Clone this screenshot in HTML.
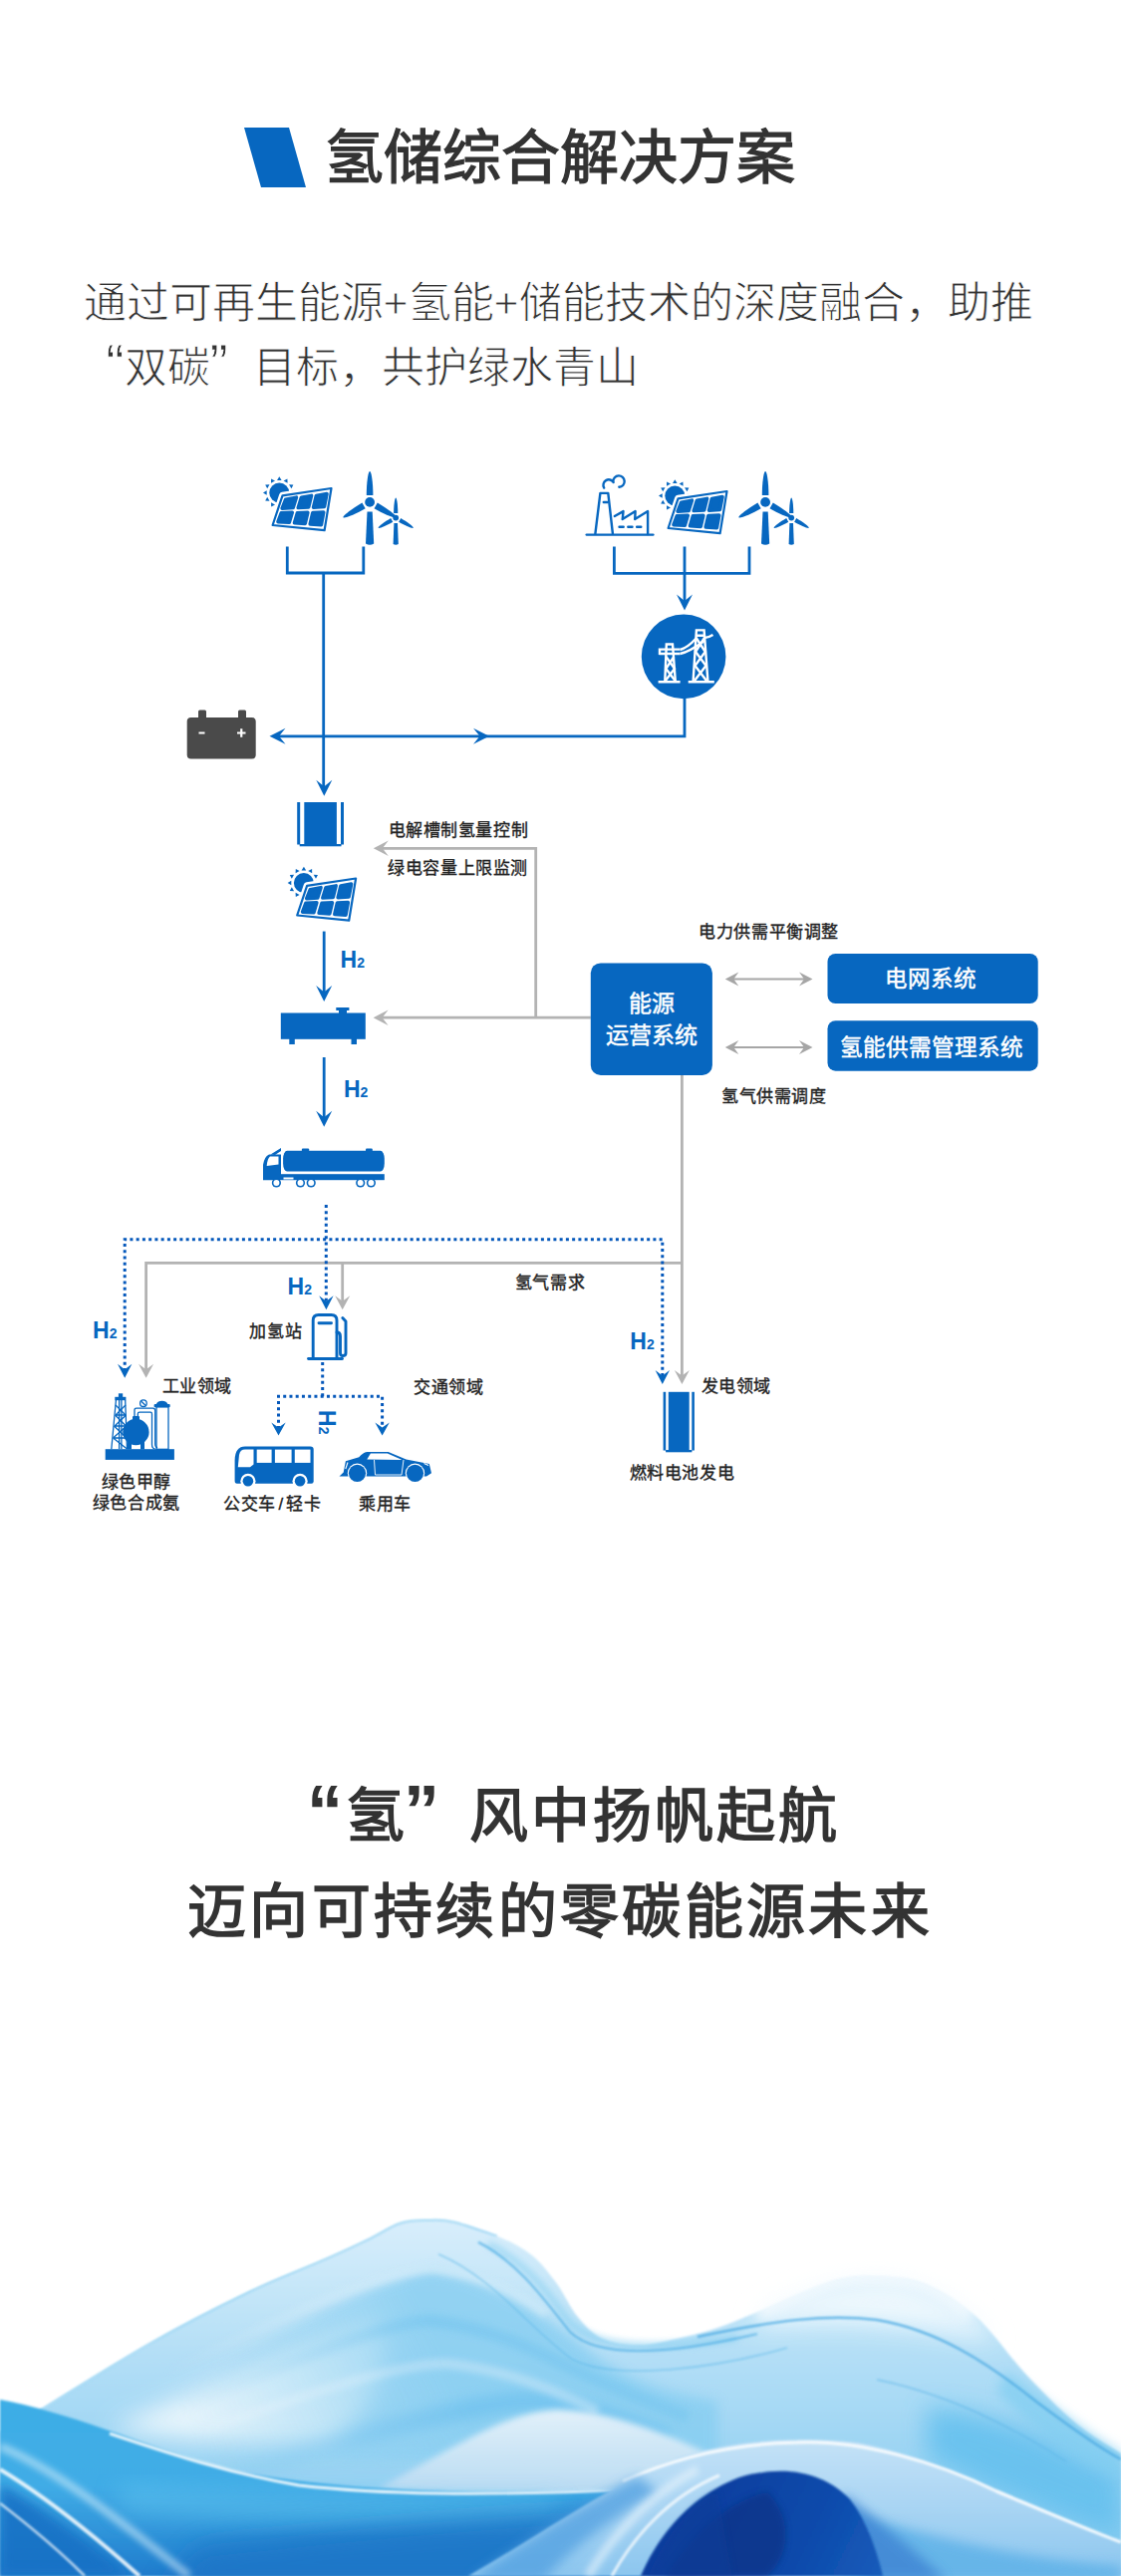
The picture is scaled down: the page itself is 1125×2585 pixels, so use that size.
<!DOCTYPE html>
<html lang="zh-CN"><head><meta charset="utf-8">
<style>
html,body{margin:0;padding:0;background:#fff;}
body{width:1125px;height:2585px;position:relative;overflow:hidden;font-family:"Liberation Sans",sans-serif;}
.t{position:absolute;white-space:nowrap;line-height:1;}
.lab{position:absolute;white-space:nowrap;line-height:1;font-size:17.5px;color:#222;-webkit-text-stroke:0.35px #222;}
.h2{position:absolute;white-space:nowrap;line-height:1;font-size:23px;font-weight:bold;color:#0767c0;}
.h2 span{font-size:14px;}
svg{position:absolute;left:0;top:0;}
</style></head><body>
<svg width="1125" height="260" style="top:0"><polygon points="245,128 290,128 307,188 262,188" fill="#0767c0"/></svg><div class="t" style="left:325.5px;top:130px;font-size:59px;color:#333;-webkit-text-stroke:1.3px #333;">氢储综合解决方案</div><div class="t" style="left:83.5px;top:283px;font-size:43px;color:#333;-webkit-text-stroke:0.9px #fff;">通过可再生能源+氢能+储能技术的深度融合，助推</div><div class="t" style="left:81.5px;top:348px;font-size:43px;color:#333;-webkit-text-stroke:0.9px #fff;"><span style="display:inline-block;width:1em;text-align:right;"><span style="padding-right:0px;font-size:55px;line-height:0">“</span></span>双碳<span style="display:inline-block;width:1em;text-align:left;"><span style="font-size:55px;line-height:0">”</span></span>目标，共护绿水青山</div><div class="t" style="left:285px;top:1793.5px;font-size:59px;letter-spacing:3px;color:#333;-webkit-text-stroke:1.6px #333;"><span style="display:inline-block;width:62px;text-align:right;letter-spacing:0"><span style="padding-right:3px;position:relative;top:-1px;font-size:72px;line-height:0;font-weight:bold;-webkit-text-stroke:0">“</span></span>氢<span style="display:inline-block;width:62px;text-align:left;letter-spacing:0"><span style="position:relative;left:-4px;top:-1px;font-size:72px;line-height:0;font-weight:bold;-webkit-text-stroke:0">”</span></span>风中扬帆起航</div><div class="t" style="left:188px;top:1889.5px;font-size:59px;letter-spacing:3.35px;color:#333;-webkit-text-stroke:1.6px #333;">迈向可持续的零碳能源未来</div><div class="lab" style="left:389.5px;top:825.2px;font-size:17px;letter-spacing:0.6px;">电解槽制氢量控制</div><div class="lab" style="left:389.2px;top:862.7px;font-size:17px;letter-spacing:0.6px;">绿电容量上限监测</div><div class="lab" style="left:701.2px;top:926.8px;font-size:17px;letter-spacing:0.6px;">电力供需平衡调整</div><div class="lab" style="left:724.0px;top:1091.5px;font-size:17px;letter-spacing:0.6px;">氢气供需调度</div><div class="lab" style="left:516.9px;top:1279.3px;font-size:17px;letter-spacing:0.6px;">氢气需求</div><div class="lab" style="left:250.4px;top:1327.9px;font-size:17px;letter-spacing:0.6px;">加氢站</div><div class="lab" style="left:162.7px;top:1383.2px;font-size:17px;letter-spacing:0.6px;">工业领域</div><div class="lab" style="left:415.2px;top:1383.7px;font-size:17px;letter-spacing:0.6px;">交通领域</div><div class="lab" style="left:703.5px;top:1383.0px;font-size:17px;letter-spacing:0.6px;">发电领域</div><div class="lab" style="left:101.7px;top:1478.8px;font-size:17px;letter-spacing:0.6px;">绿色甲醇</div><div class="lab" style="left:92.8px;top:1499.6px;font-size:17px;letter-spacing:0.6px;">绿色合成氨</div><div class="lab" style="left:224.2px;top:1501.0px;font-size:17px;letter-spacing:0.6px;">公交车<span style="margin:0 2.5px">/</span>轻卡</div><div class="lab" style="left:360.2px;top:1501.0px;font-size:17px;letter-spacing:0.6px;">乘用车</div><div class="lab" style="left:631.6px;top:1470.1px;font-size:17px;letter-spacing:0.6px;">燃料电池发电</div><svg width="1125" height="2585" viewBox="0 0 1125 2585"><circle cx="280.3" cy="494.5" r="10" fill="#0767c0"/><path d="M280.3,478.2 L282.6,481.9 L278.0,481.9 Z" fill="#0767c0"/><path d="M288.4,480.4 L288.6,484.7 L284.6,482.4 Z" fill="#0767c0"/><path d="M294.4,486.4 L292.4,490.2 L290.1,486.2 Z" fill="#0767c0"/><path d="M296.6,494.5 L292.9,496.8 L292.9,492.2 Z" fill="#0767c0"/><path d="M294.4,502.6 L290.1,502.8 L292.4,498.8 Z" fill="#0767c0"/><path d="M288.4,508.6 L284.6,506.6 L288.6,504.3 Z" fill="#0767c0"/><path d="M280.3,510.8 L278.0,507.1 L282.6,507.1 Z" fill="#0767c0"/><path d="M272.2,508.6 L272.0,504.3 L276.0,506.6 Z" fill="#0767c0"/><path d="M266.2,502.6 L268.2,498.8 L270.5,502.8 Z" fill="#0767c0"/><path d="M264.0,494.5 L267.7,492.2 L267.7,496.8 Z" fill="#0767c0"/><path d="M266.2,486.4 L270.5,486.2 L268.2,490.2 Z" fill="#0767c0"/><path d="M272.1,480.4 L276.0,482.4 L272.0,484.7 Z" fill="#0767c0"/><polygon points="283.5,497.3 332.5,490.0 325.6,532.2 273.6,527.0" fill="#fff" stroke="#fff" stroke-width="7" stroke-linejoin="round"/><polygon points="283.5,497.3 332.5,490.0 325.6,532.2 273.6,527.0" fill="#fff" stroke="#0767c0" stroke-width="2.2" stroke-linejoin="round"/><polygon points="286.71,501.18 297.38,499.19 294.14,509.38 283.13,510.14" fill="#0767c0" stroke="#0767c0" stroke-width="3.6" stroke-linejoin="round"/><polygon points="302.40,499.31 312.53,497.43 309.67,508.87 299.25,509.57" fill="#0767c0" stroke="#0767c0" stroke-width="3.6" stroke-linejoin="round"/><polygon points="317.39,497.44 327.97,495.56 325.44,508.44 314.56,509.08" fill="#0767c0" stroke="#0767c0" stroke-width="3.6" stroke-linejoin="round"/><polygon points="282.27,514.87 293.27,514.29 290.28,524.19 278.97,523.58" fill="#0767c0" stroke="#0767c0" stroke-width="3.6" stroke-linejoin="round"/><polygon points="298.42,514.79 308.82,514.27 306.20,525.37 295.51,524.75" fill="#0767c0" stroke="#0767c0" stroke-width="3.6" stroke-linejoin="round"/><polygon points="313.82,514.63 324.69,514.16 322.37,526.65 311.22,525.93" fill="#0767c0" stroke="#0767c0" stroke-width="3.6" stroke-linejoin="round"/><path d="M395.4,525.1 L399.0,525.1 L399.8,546.1 Q397.2,547.4 394.6,546.1 Z" fill="#0767c0"/><path transform="translate(397.2,519.6) rotate(0)" d="M-2.10,-4.60 C-2.10,-11.62 -1.18,-20.20 0,-20.20 C1.18,-20.20 2.10,-11.62 2.10,-4.60 Z" fill="#0767c0"/><path transform="translate(397.2,519.6) rotate(120)" d="M-2.10,-4.60 C-2.10,-11.62 -1.18,-20.20 0,-20.20 C1.18,-20.20 2.10,-11.62 2.10,-4.60 Z" fill="#0767c0"/><path transform="translate(397.2,519.6) rotate(240)" d="M-2.10,-4.60 C-2.10,-11.62 -1.18,-20.20 0,-20.20 C1.18,-20.20 2.10,-11.62 2.10,-4.60 Z" fill="#0767c0"/><circle cx="397.2" cy="519.6" r="2.9" fill="#0767c0"/><path d="M368.5,513.4 L373.7,513.4 L375.2,545.4 Q371.1,547.9 367.0,545.4 Z" fill="#0767c0"/><path transform="translate(371.1,503.9) rotate(0)" d="M-3.30,-7.00 C-3.30,-17.71 -1.85,-30.80 0,-30.80 C1.85,-30.80 3.30,-17.71 3.30,-7.00 Z" fill="#0767c0"/><path transform="translate(371.1,503.9) rotate(120)" d="M-3.30,-7.00 C-3.30,-17.71 -1.85,-30.80 0,-30.80 C1.85,-30.80 3.30,-17.71 3.30,-7.00 Z" fill="#0767c0"/><path transform="translate(371.1,503.9) rotate(240)" d="M-3.30,-7.00 C-3.30,-17.71 -1.85,-30.80 0,-30.80 C1.85,-30.80 3.30,-17.71 3.30,-7.00 Z" fill="#0767c0"/><circle cx="371.1" cy="503.9" r="4.9" fill="#0767c0"/><circle cx="677.3" cy="497.5" r="10" fill="#0767c0"/><path d="M677.3,481.2 L679.6,484.9 L675.0,484.9 Z" fill="#0767c0"/><path d="M685.4,483.4 L685.6,487.7 L681.6,485.4 Z" fill="#0767c0"/><path d="M691.4,489.4 L689.4,493.2 L687.1,489.2 Z" fill="#0767c0"/><path d="M693.6,497.5 L689.9,499.8 L689.9,495.2 Z" fill="#0767c0"/><path d="M691.4,505.6 L687.1,505.8 L689.4,501.8 Z" fill="#0767c0"/><path d="M685.4,511.6 L681.6,509.6 L685.6,507.3 Z" fill="#0767c0"/><path d="M677.3,513.8 L675.0,510.1 L679.6,510.1 Z" fill="#0767c0"/><path d="M669.1,511.6 L669.0,507.3 L673.0,509.6 Z" fill="#0767c0"/><path d="M663.2,505.6 L665.2,501.8 L667.5,505.8 Z" fill="#0767c0"/><path d="M661.0,497.5 L664.7,495.2 L664.7,499.8 Z" fill="#0767c0"/><path d="M663.2,489.4 L667.5,489.2 L665.2,493.2 Z" fill="#0767c0"/><path d="M669.1,483.4 L673.0,485.4 L669.0,487.7 Z" fill="#0767c0"/><polygon points="680.5,500.3 729.5,493.0 722.6,535.2 670.6,530.0" fill="#fff" stroke="#fff" stroke-width="7" stroke-linejoin="round"/><polygon points="680.5,500.3 729.5,493.0 722.6,535.2 670.6,530.0" fill="#fff" stroke="#0767c0" stroke-width="2.2" stroke-linejoin="round"/><polygon points="683.71,504.18 694.38,502.19 691.14,512.38 680.13,513.14" fill="#0767c0" stroke="#0767c0" stroke-width="3.6" stroke-linejoin="round"/><polygon points="699.40,502.31 709.53,500.43 706.67,511.87 696.25,512.57" fill="#0767c0" stroke="#0767c0" stroke-width="3.6" stroke-linejoin="round"/><polygon points="714.39,500.44 724.97,498.56 722.44,511.44 711.56,512.08" fill="#0767c0" stroke="#0767c0" stroke-width="3.6" stroke-linejoin="round"/><polygon points="679.27,517.87 690.27,517.29 687.28,527.19 675.97,526.58" fill="#0767c0" stroke="#0767c0" stroke-width="3.6" stroke-linejoin="round"/><polygon points="695.42,517.79 705.82,517.27 703.20,528.37 692.51,527.75" fill="#0767c0" stroke="#0767c0" stroke-width="3.6" stroke-linejoin="round"/><polygon points="710.82,517.63 721.69,517.16 719.37,529.65 708.22,528.93" fill="#0767c0" stroke="#0767c0" stroke-width="3.6" stroke-linejoin="round"/><path d="M792.4,525.1 L796.0,525.1 L796.8,546.1 Q794.2,547.4 791.6,546.1 Z" fill="#0767c0"/><path transform="translate(794.2,519.6) rotate(0)" d="M-2.10,-4.60 C-2.10,-11.62 -1.18,-20.20 0,-20.20 C1.18,-20.20 2.10,-11.62 2.10,-4.60 Z" fill="#0767c0"/><path transform="translate(794.2,519.6) rotate(120)" d="M-2.10,-4.60 C-2.10,-11.62 -1.18,-20.20 0,-20.20 C1.18,-20.20 2.10,-11.62 2.10,-4.60 Z" fill="#0767c0"/><path transform="translate(794.2,519.6) rotate(240)" d="M-2.10,-4.60 C-2.10,-11.62 -1.18,-20.20 0,-20.20 C1.18,-20.20 2.10,-11.62 2.10,-4.60 Z" fill="#0767c0"/><circle cx="794.2" cy="519.6" r="2.9" fill="#0767c0"/><path d="M765.5,513.4 L770.7,513.4 L772.2,545.4 Q768.1,547.9 764.0,545.4 Z" fill="#0767c0"/><path transform="translate(768.1,503.9) rotate(0)" d="M-3.30,-7.00 C-3.30,-17.71 -1.85,-30.80 0,-30.80 C1.85,-30.80 3.30,-17.71 3.30,-7.00 Z" fill="#0767c0"/><path transform="translate(768.1,503.9) rotate(120)" d="M-3.30,-7.00 C-3.30,-17.71 -1.85,-30.80 0,-30.80 C1.85,-30.80 3.30,-17.71 3.30,-7.00 Z" fill="#0767c0"/><path transform="translate(768.1,503.9) rotate(240)" d="M-3.30,-7.00 C-3.30,-17.71 -1.85,-30.80 0,-30.80 C1.85,-30.80 3.30,-17.71 3.30,-7.00 Z" fill="#0767c0"/><circle cx="768.1" cy="503.9" r="4.9" fill="#0767c0"/><g fill="none" stroke="#0767c0" stroke-width="2.4" stroke-linecap="round" stroke-linejoin="round"><path d="M588.7,536.6 H655.4"/><path d="M597.4,535.5 L602.4,494.9 H610.3 L614.9,535.5"/><path d="M605.8,504 H609.7"/><path d="M606.2,489.6 A4.9,4.9 0 0 1 615.6,484"/><path d="M615.3,483.3 A5.7,5.7 0 1 1 621.3,488.8"/><path d="M616.8,518 L625.5,513.1 L624.7,521.1 L637.6,513.1 L637.2,521.1 L650.1,513.1 V536"/><path d="M621.5,528.7 H644" stroke-dasharray="4.2 4.6"/></g><path d="M288.3,548.5 L288.3,575.0 L364.8,575.0 L364.8,548.5" fill="none" stroke="#0767c0" stroke-width="2.8" stroke-linecap="butt" stroke-linejoin="miter"/><path d="M324.7,575.0 L324.7,790.0" fill="none" stroke="#0767c0" stroke-width="2.8" stroke-linecap="butt" stroke-linejoin="miter"/><path transform="translate(325.3,798.8) rotate(90)" d="M0,0 L-16,-8 L-9.5,0 L-16,8 Z" fill="#0767c0"/><path d="M616.4,548.5 L616.4,575.3 L752.0,575.3 L752.0,548.5" fill="none" stroke="#0767c0" stroke-width="2.8" stroke-linecap="butt" stroke-linejoin="miter"/><path d="M687.0,548.5 L687.0,605.0" fill="none" stroke="#0767c0" stroke-width="2.8" stroke-linecap="butt" stroke-linejoin="miter"/><path transform="translate(687.0,612.5) rotate(90)" d="M0,0 L-16,-8 L-9.5,0 L-16,8 Z" fill="#0767c0"/><circle cx="686.1" cy="658.9" r="42.3" fill="#0767c0"/><g fill="none" stroke="#fff" stroke-width="2.4" stroke-linejoin="miter" stroke-linecap="butt"><path d="M660.6,684.3 H682.6 M667.3,683.5 L668.8,646.5 H675 L677.8,683.5"/><path d="M661.5,651.6 H682.6 M661.5,656 H682.6 M662,650.5 V657"/><path d="M668.5,659 L677,671 L667.8,683 M676.3,659 L668.3,671 L677.5,683"/><path d="M690.7,684.3 H716.8 M695.6,683.5 L698.9,632.4 H706.6 L710.4,683.5 M698.7,637.8 H706.8"/><path d="M698.6,640 L707.8,654 L697.5,668 L709,683 M707,640 L698,654 L708.5,668 L697,683"/><path d="M682.6,652 Q690,650 698.7,640.5 M682.6,656 Q692,654 707,643 M707,640 Q711,640 715.5,637"/></g><g fill="#4a4a4a"><rect x="187.7" y="720" width="69" height="41.5" rx="4"/><rect x="199" y="712.5" width="8" height="9" rx="1.5"/><rect x="239" y="712.5" width="8" height="9" rx="1.5"/></g><path d="M199.5,735.5 H205.5 M238,735.5 H246.5 M242.25,731.2 V739.8" stroke="#fff" stroke-width="2.2"/><path d="M687.0,701.0 L687.0,738.8 L278.0,738.8" fill="none" stroke="#0767c0" stroke-width="2.8" stroke-linecap="butt" stroke-linejoin="miter"/><path transform="translate(270.5,738.8) rotate(180)" d="M0,0 L-16,-8 L-9.5,0 L-16,8 Z" fill="#0767c0"/><path transform="translate(491.0,738.8) rotate(0)" d="M0,0 L-16,-8 L-9.5,0 L-16,8 Z" fill="#0767c0"/><g fill="#0767c0"><rect x="298.2" y="805.0" width="3" height="42.5"/><rect x="342.0" y="805.0" width="3" height="42.5"/><rect x="305.3" y="805.0" width="32.6" height="42.5"/><rect x="300.7" y="847.0" width="41.8" height="2.3"/></g><circle cx="304.9" cy="886.0" r="10" fill="#0767c0"/><path d="M304.9,869.7 L307.2,873.4 L302.6,873.4 Z" fill="#0767c0"/><path d="M313.1,871.9 L313.2,876.2 L309.2,873.9 Z" fill="#0767c0"/><path d="M319.0,877.9 L317.0,881.7 L314.7,877.7 Z" fill="#0767c0"/><path d="M321.2,886.0 L317.5,888.3 L317.5,883.7 Z" fill="#0767c0"/><path d="M319.0,894.1 L314.7,894.3 L317.0,890.3 Z" fill="#0767c0"/><path d="M313.1,900.1 L309.2,898.1 L313.2,895.8 Z" fill="#0767c0"/><path d="M304.9,902.3 L302.6,898.6 L307.2,898.6 Z" fill="#0767c0"/><path d="M296.8,900.1 L296.6,895.8 L300.6,898.1 Z" fill="#0767c0"/><path d="M290.8,894.1 L292.8,890.3 L295.1,894.3 Z" fill="#0767c0"/><path d="M288.6,886.0 L292.3,883.7 L292.3,888.3 Z" fill="#0767c0"/><path d="M290.8,877.9 L295.1,877.7 L292.8,881.7 Z" fill="#0767c0"/><path d="M296.8,871.9 L300.6,873.9 L296.6,876.2 Z" fill="#0767c0"/><polygon points="308.1,888.8 357.1,881.5 350.2,923.7 298.2,918.5" fill="#fff" stroke="#fff" stroke-width="7" stroke-linejoin="round"/><polygon points="308.1,888.8 357.1,881.5 350.2,923.7 298.2,918.5" fill="#fff" stroke="#0767c0" stroke-width="2.2" stroke-linejoin="round"/><polygon points="311.31,892.68 321.98,890.69 318.74,900.88 307.73,901.64" fill="#0767c0" stroke="#0767c0" stroke-width="3.6" stroke-linejoin="round"/><polygon points="327.00,890.81 337.13,888.93 334.27,900.37 323.85,901.07" fill="#0767c0" stroke="#0767c0" stroke-width="3.6" stroke-linejoin="round"/><polygon points="341.99,888.94 352.57,887.06 350.04,899.94 339.16,900.58" fill="#0767c0" stroke="#0767c0" stroke-width="3.6" stroke-linejoin="round"/><polygon points="306.87,906.37 317.87,905.79 314.88,915.69 303.57,915.08" fill="#0767c0" stroke="#0767c0" stroke-width="3.6" stroke-linejoin="round"/><polygon points="323.02,906.29 333.42,905.77 330.80,916.87 320.11,916.25" fill="#0767c0" stroke="#0767c0" stroke-width="3.6" stroke-linejoin="round"/><polygon points="338.42,906.13 349.29,905.66 346.97,918.15 335.82,917.43" fill="#0767c0" stroke="#0767c0" stroke-width="3.6" stroke-linejoin="round"/><path d="M325.2,934.6 L325.2,998.0" fill="none" stroke="#0767c0" stroke-width="2.8" stroke-linecap="butt" stroke-linejoin="miter"/><path transform="translate(325.2,1005.0) rotate(90)" d="M0,0 L-16,-8 L-9.5,0 L-16,8 Z" fill="#0767c0"/><g fill="#0767c0"><rect x="281.8" y="1016.5" width="85" height="26.3"/><rect x="337.3" y="1011" width="13.1" height="3"/><rect x="340" y="1013" width="8" height="4"/><rect x="290.3" y="1042" width="5.5" height="6"/><rect x="352.5" y="1042" width="5.5" height="6"/></g><path d="M325.2,1061.0 L325.2,1124.0" fill="none" stroke="#0767c0" stroke-width="2.8" stroke-linecap="butt" stroke-linejoin="miter"/><path transform="translate(325.2,1130.8) rotate(90)" d="M0,0 L-16,-8 L-9.5,0 L-16,8 Z" fill="#0767c0"/><g fill="#0767c0"><rect x="284.1" y="1154.8" width="101.7" height="20.7" rx="4" ry="8"/><rect x="302.9" y="1152.5" width="7.3" height="3.5" rx="1"/><rect x="367" y="1152.5" width="6.8" height="3.5" rx="1"/><rect x="282" y="1178.2" width="103.8" height="6"/><path d="M264,1184.2 V1169 Q265,1161 270,1158.5 L282,1158.5 V1184.2 Z"/><path d="M271.5,1158.5 L282,1152 V1155 L276,1159 Z"/></g><path d="M267.7,1170 Q268.2,1163 271,1160.5 L279.5,1160.5 V1168.6 Z" fill="#fff"/><rect x="284.5" y="1181.5" width="10" height="2" fill="#fff"/><circle cx="277.4" cy="1186.9" r="4.6" fill="#0767c0"/><circle cx="277.4" cy="1186.9" r="3" fill="#fff"/><circle cx="301.5" cy="1186.9" r="4.6" fill="#0767c0"/><circle cx="301.5" cy="1186.9" r="3" fill="#fff"/><circle cx="312.2" cy="1186.9" r="4.6" fill="#0767c0"/><circle cx="312.2" cy="1186.9" r="3" fill="#fff"/><circle cx="361.7" cy="1186.9" r="4.6" fill="#0767c0"/><circle cx="361.7" cy="1186.9" r="3" fill="#fff"/><circle cx="372.4" cy="1186.9" r="4.6" fill="#0767c0"/><circle cx="372.4" cy="1186.9" r="3" fill="#fff"/><path d="M382.0,851.3 L537.7,851.3 L537.7,1021.2" fill="none" stroke="#b3b3b3" stroke-width="2.8" stroke-linecap="butt" stroke-linejoin="miter"/><path transform="translate(374.8,851.3) rotate(180)" d="M0,0 L-15,-7.8 L-9,0 L-15,7.8 Z" fill="#b3b3b3"/><path d="M382.0,1021.2 L592.8,1021.2" fill="none" stroke="#b3b3b3" stroke-width="2.8" stroke-linecap="butt" stroke-linejoin="miter"/><path transform="translate(374.6,1021.2) rotate(180)" d="M0,0 L-15,-7.8 L-9,0 L-15,7.8 Z" fill="#b3b3b3"/><path d="M733.0,982.5 L810.0,982.5" fill="none" stroke="#a6a6a6" stroke-width="2.1" stroke-linecap="butt" stroke-linejoin="miter"/><path transform="translate(727.8,982.5) rotate(180)" d="M0,0 L-13.5,-7 L-8.5,0 L-13.5,7 Z" fill="#a6a6a6"/><path transform="translate(815.5,982.5) rotate(0)" d="M0,0 L-13.5,-7 L-8.5,0 L-13.5,7 Z" fill="#a6a6a6"/><path d="M733.0,1051.0 L810.0,1051.0" fill="none" stroke="#a6a6a6" stroke-width="2.1" stroke-linecap="butt" stroke-linejoin="miter"/><path transform="translate(727.8,1051.0) rotate(180)" d="M0,0 L-13.5,-7 L-8.5,0 L-13.5,7 Z" fill="#a6a6a6"/><path transform="translate(815.5,1051.0) rotate(0)" d="M0,0 L-13.5,-7 L-8.5,0 L-13.5,7 Z" fill="#a6a6a6"/><rect x="592.8" y="966.4" width="122.1" height="112.6" rx="10" fill="#0767c0"/><rect x="830.5" y="957" width="211.2" height="50" rx="8" fill="#0767c0"/><rect x="830.5" y="1024.2" width="211.2" height="50.5" rx="8" fill="#0767c0"/><path d="M684.4,1079.0 L684.4,1382.0" fill="none" stroke="#b3b3b3" stroke-width="2.8" stroke-linecap="butt" stroke-linejoin="miter"/><path transform="translate(684.4,1389.0) rotate(90)" d="M0,0 L-14,-7.5 L-8.5,0 L-14,7.5 Z" fill="#b3b3b3"/><path d="M146.6,1376.0 L146.6,1267.3 L684.4,1267.3" fill="none" stroke="#b3b3b3" stroke-width="2.8" stroke-linecap="butt" stroke-linejoin="miter"/><path transform="translate(146.6,1382.7) rotate(90)" d="M0,0 L-14,-7.5 L-8.5,0 L-14,7.5 Z" fill="#b3b3b3"/><path d="M343.7,1267.3 L343.7,1308.0" fill="none" stroke="#b3b3b3" stroke-width="2.8" stroke-linecap="butt" stroke-linejoin="miter"/><path transform="translate(343.7,1314.2) rotate(90)" d="M0,0 L-14,-7.5 L-8.5,0 L-14,7.5 Z" fill="#b3b3b3"/><path d="M327.3,1209.0 L327.3,1308.0" fill="none" stroke="#0558bb" stroke-width="3" stroke-linecap="butt" stroke-linejoin="miter" stroke-dasharray="3 3.25"/><path d="M125.2,1376.0 L125.2,1243.7 L664.8,1243.7 L664.8,1382.0" fill="none" stroke="#0558bb" stroke-width="3" stroke-linecap="butt" stroke-linejoin="miter" stroke-dasharray="3 3.25"/><path transform="translate(327.4,1314.2) rotate(90)" d="M0,0 L-14,-7.2 L-8.5,0 L-14,7.2 Z" fill="#0767c0"/><path transform="translate(125.2,1382.7) rotate(90)" d="M0,0 L-14,-7.2 L-8.5,0 L-14,7.2 Z" fill="#0767c0"/><path transform="translate(664.8,1389.0) rotate(90)" d="M0,0 L-14,-7.2 L-8.5,0 L-14,7.2 Z" fill="#0767c0"/><path d="M323.7,1367.0 L323.7,1401.2" fill="none" stroke="#0558bb" stroke-width="3" stroke-linecap="butt" stroke-linejoin="miter" stroke-dasharray="3 3.25"/><path d="M279.5,1434.0 L279.5,1401.2 L383.6,1401.2 L383.6,1434.0" fill="none" stroke="#0558bb" stroke-width="3" stroke-linecap="butt" stroke-linejoin="miter" stroke-dasharray="3 3.25"/><path transform="translate(279.5,1440.4) rotate(90)" d="M0,0 L-13,-7.2 L-8,0 L-13,7.2 Z" fill="#0767c0"/><path transform="translate(383.6,1440.4) rotate(90)" d="M0,0 L-13,-7.2 L-8,0 L-13,7.2 Z" fill="#0767c0"/><g fill="none" stroke="#0767c0" stroke-width="2.9" stroke-linecap="round" stroke-linejoin="round"><path d="M314.2,1362.5 V1325 Q314.2,1319.5 319.7,1319.5 H332.5 Q338,1319.5 338,1325 V1362.5"/><path d="M309.5,1363.5 H343.5"/><path d="M320,1327.8 H332.5"/><path d="M338,1337 Q341.5,1337 341.5,1341 V1358 Q341.5,1360.5 344,1360.5 Q347,1360.5 347,1358 V1326 L343.8,1322.5"/></g><g fill="#0767c0"><rect x="665.6" y="1396.8" width="2.6" height="58.7"/><rect x="694.3" y="1396.8" width="2.6" height="58.7"/><rect x="670.8" y="1396.8" width="20.9" height="58.7"/><rect x="668.1" y="1455.0" width="26.3" height="2.3"/></g><g fill="none" stroke="#0767c0" stroke-width="1.3"><path d="M111.8,1454.2 L116.4,1405 M127.5,1454.2 L125.7,1405 M119.6,1405 V1454 M121.9,1405 V1454"/><path d="M116,1410 L126,1420 M126,1410 L116,1420 M115.5,1420 L126.5,1431 M126.5,1420 L115,1431 M114.5,1431 L127,1443 M127,1431 L113.5,1443 M113.5,1443 L127.5,1454 M116,1420 H126 M115,1431 H127 M113.5,1443 H127.5"/><path d="M135,1440 V1415 Q135,1413.2 137,1413.2 H153.5 Q155.7,1413.2 155.7,1415.5 V1449 Q155.7,1452 158,1453"/><path d="M138.3,1430 V1419 Q138.3,1417.2 140,1417.2 H151 Q152.5,1417.2 152.5,1419 V1449.5 Q152.5,1453.5 155.5,1454"/><circle cx="143.9" cy="1408.2" r="3.3"/><path d="M141.8,1406.3 L146,1410.2"/><rect x="157" y="1411.8" width="12" height="42.5"/></g><g fill="#0767c0"><rect x="105.7" y="1454.2" width="69.2" height="10.7"/><rect x="115.3" y="1401.8" width="11.1" height="3.4"/><rect x="118.9" y="1398.3" width="4.3" height="4"/><circle cx="136.4" cy="1437" r="13.2"/><rect x="133" y="1421" width="7" height="5" rx="1"/><rect x="128" y="1447" width="4" height="7.5"/><rect x="141" y="1447" width="4" height="7.5"/><rect x="154.6" y="1408.9" width="16.1" height="3.4" rx="1"/><path d="M156.8,1409 A6.3,5.4 0 0 1 168.4,1409 Z"/></g><path d="M235.6,1486 V1465 Q236,1451.4 246,1451.4 H311.5 Q314.7,1451.4 314.7,1454.6 V1486.5 Q314.7,1488.8 312.5,1488.8 H237.8 Q235.6,1488.8 235.6,1486 Z" fill="#0767c0"/><g fill="#fff"><path d="M238.8,1472.3 L240,1460 Q241,1454.6 246,1454.6 H254.5 V1469.5 L251,1472.3 Z"/><rect x="257.7" y="1454.6" width="14.9" height="13.3"/><rect x="275.9" y="1454.6" width="16.7" height="13.3"/><rect x="295.8" y="1454.6" width="15.7" height="13.3"/><circle cx="248.9" cy="1486.3" r="7.6"/><circle cx="301.1" cy="1486.3" r="7.6"/></g><circle cx="248.9" cy="1486.3" r="5.3" fill="#0767c0"/><circle cx="301.1" cy="1486.3" r="5.3" fill="#0767c0"/><path d="M344.7,1477.4 L346.9,1466.3 L360.3,1462.3 Q364,1457.5 368.3,1456.9 H389.7 L407.6,1464.5 L430.8,1469 L433,1478.3 L428,1481.5 H340.5 Z" fill="#0767c0"/><path d="M368.3,1464.5 L371.9,1458.5 H388.8 L403.6,1465 Z" fill="#fff"/><path d="M375.5,1465 L376.5,1480 H403 L405,1465" fill="none" stroke="#fff" stroke-width="0.9"/><path d="M349,1467.5 L346.8,1474 M425.5,1468.5 L430,1470.5" stroke="#fff" stroke-width="1.1"/><circle cx="358.5" cy="1478.3" r="9.7" fill="#fff"/><circle cx="416.5" cy="1478.3" r="9.7" fill="#fff"/><circle cx="358.5" cy="1478.3" r="8.6" fill="#0767c0"/><circle cx="416.5" cy="1478.3" r="8.6" fill="#0767c0"/></svg><div class="t" style="left:592.8px;top:966.4px;width:122.10000000000002px;height:112.60000000000002px;display:flex;align-items:center;justify-content:center;text-align:center;font-size:23px;line-height:32px;color:#fff;-webkit-text-stroke:0.5px #fff;flex-direction:column">能源<br>运营系统</div><div class="t" style="left:828.0px;top:957.8px;width:211.20000000000005px;height:50px;display:flex;align-items:center;justify-content:center;text-align:center;font-size:22.5px;line-height:32px;color:#fff;-webkit-text-stroke:0.5px #fff;flex-direction:column">电网系统</div><div class="t" style="left:829.5px;top:1026.7px;width:211.20000000000005px;height:50.5px;display:flex;align-items:center;justify-content:center;text-align:center;font-size:22.5px;line-height:32px;color:#fff;-webkit-text-stroke:0.5px #fff;flex-direction:column">氢能供需管理系统</div><div class="h2" style="left:341.5px;top:952.1px;">H<span>2</span></div><div class="h2" style="left:344.9px;top:1081.8px;">H<span>2</span></div><div class="h2" style="left:288.5px;top:1279.6px;">H<span>2</span></div><div class="h2" style="left:93.0px;top:1323.7px;">H<span>2</span></div><div class="h2" style="left:632.3px;top:1334.5px;">H<span>2</span></div><div class="h2" style="left:339.0px;top:1415.0px;transform-origin:0 0;transform:rotate(90deg);">H<span>2</span></div><svg width="1125" height="2585" viewBox="0 0 1125 2585" style="top:0;left:0"><defs>
<filter id="b1" x="-10%" y="-10%" width="120%" height="120%"><feGaussianBlur stdDeviation="1.1"/></filter>
<filter id="b3" x="-20%" y="-20%" width="140%" height="140%"><feGaussianBlur stdDeviation="3"/></filter>
<filter id="b6" x="-30%" y="-30%" width="160%" height="160%"><feGaussianBlur stdDeviation="6"/></filter>
<filter id="b12" x="-30%" y="-30%" width="160%" height="160%"><feGaussianBlur stdDeviation="12"/></filter>
<linearGradient id="gBack" x1="0" y1="2225" x2="0" y2="2585" gradientUnits="userSpaceOnUse">
 <stop offset="0" stop-color="#d9eefb"/><stop offset="0.4" stop-color="#b2def6"/><stop offset="1" stop-color="#80c8ef"/></linearGradient>
<linearGradient id="gFront" x1="0" y1="2405" x2="0" y2="2585" gradientUnits="userSpaceOnUse">
 <stop offset="0" stop-color="#3eaee6"/><stop offset="0.5" stop-color="#40ace6"/><stop offset="1" stop-color="#1f7ccd"/></linearGradient>
<linearGradient id="gNavy" x1="680" y1="2480" x2="900" y2="2585" gradientUnits="userSpaceOnUse">
 <stop offset="0" stop-color="#083c9c"/><stop offset="0.6" stop-color="#0c4aab"/><stop offset="1" stop-color="#1a5fbd"/></linearGradient>
<linearGradient id="gRib" x1="0" y1="2450" x2="0" y2="2585" gradientUnits="userSpaceOnUse">
 <stop offset="0" stop-color="#c4e2f7"/><stop offset="1" stop-color="#8cc6ef"/></linearGradient>
<linearGradient id="gBulge" x1="0" y1="2415" x2="0" y2="2500" gradientUnits="userSpaceOnUse">
 <stop offset="0" stop-color="#e9f4fb"/><stop offset="1" stop-color="#bcdcf3"/></linearGradient>
<linearGradient id="fadeL" x1="190" y1="2440" x2="430" y2="2330" gradientUnits="userSpaceOnUse"><stop offset="0" stop-color="#fff" stop-opacity="0"/><stop offset="1" stop-color="#fff" stop-opacity="1"/></linearGradient>
<mask id="mFade" maskUnits="userSpaceOnUse" x="0" y="2150" width="1125" height="435"><rect x="0" y="2150" width="1125" height="435" fill="url(#fadeL)"/></mask>
</defs><path filter="url(#b1)" fill="url(#gBack)" d="M38.0,2420.0 C56.7,2408.7 114.7,2372.0 150.0,2352.0 C185.3,2332.0 220.0,2314.4 250.0,2300.0 C280.0,2285.6 309.9,2274.5 330.0,2265.6 C350.1,2256.7 358.6,2252.6 370.6,2246.8 C382.6,2241.0 391.9,2234.1 401.8,2231.0 C411.7,2227.9 421.1,2228.2 430.0,2228.0 C438.9,2227.8 443.5,2227.1 454.9,2229.7 C466.3,2232.3 485.6,2238.2 498.6,2243.7 C511.6,2249.1 523.1,2254.6 533.0,2262.4 C542.9,2270.2 550.2,2280.1 558.0,2290.5 C565.8,2300.9 572.0,2315.5 579.8,2324.9 C587.6,2334.3 594.3,2342.0 604.7,2346.7 C615.1,2351.4 629.5,2353.0 642.0,2353.0 C654.5,2353.0 667.0,2349.5 680.0,2346.7 C693.0,2343.9 706.7,2340.4 720.0,2336.0 C733.3,2331.6 746.7,2325.7 760.0,2320.0 C773.3,2314.3 785.8,2307.7 800.0,2302.0 C814.2,2296.3 830.8,2289.0 845.0,2286.0 C859.2,2283.0 870.8,2283.0 885.0,2284.0 C899.2,2285.0 914.2,2285.2 930.0,2292.0 C945.8,2298.8 963.3,2309.8 980.0,2325.0 C996.7,2340.2 1013.3,2365.2 1030.0,2383.0 C1046.7,2400.8 1064.2,2418.8 1080.0,2432.0 C1095.8,2445.2 1117.5,2457.0 1125.0,2462.0 L1125,2585 L0,2585 L0,2440 Z"/><path filter="url(#b1)" fill="none" stroke="#8fd0f2" stroke-width="2" opacity="0.8" d="M38.0,2420.0 C56.7,2408.7 114.7,2372.0 150.0,2352.0 C185.3,2332.0 220.0,2314.4 250.0,2300.0 C280.0,2285.6 309.9,2274.5 330.0,2265.6 C350.1,2256.7 358.6,2252.6 370.6,2246.8 C382.6,2241.0 391.9,2234.1 401.8,2231.0 C411.7,2227.9 421.1,2228.2 430.0,2228.0 C438.9,2227.8 443.5,2227.1 454.9,2229.7 C466.3,2232.3 491.3,2241.4 498.6,2243.7"/><path filter="url(#b12)" fill="#eef8fd" opacity="0.9" d="M110,2435 C200,2400 300,2350 380,2320 C400,2360 380,2420 330,2450 C250,2455 170,2450 110,2435 Z"/><g mask="url(#mFade)"><path filter="url(#b6)" fill="#86cdf1" opacity="0.8" d="M120,2440 C200,2390 330,2300 434,2278 C500,2290 540,2320 580,2350 C620,2385 660,2400 720,2410 L720,2480 C600,2470 450,2470 120,2470 Z"/><path filter="url(#b3)" fill="none" stroke="#7cc8ef" stroke-width="13" opacity="0.7" d="M150,2430 C250,2390 380,2328 434,2329 C500,2338 540,2360 568,2374 C610,2394 650,2410 690,2425"/><path filter="url(#b6)" fill="none" stroke="#6cc0ee" stroke-width="20" opacity="0.65" d="M200,2490 C330,2455 450,2415 523,2410 C575,2410 625,2430 670,2448"/><path filter="url(#b3)" fill="none" stroke="#d0ebf9" stroke-width="9" opacity="0.7" d="M150,2390 C250,2340 380,2278 434,2276 C490,2284 520,2302 548,2322"/><path filter="url(#b3)" fill="none" stroke="#c4e5f8" stroke-width="10" opacity="0.6" d="M150,2460 C280,2410 400,2370 450,2372 C510,2378 560,2400 600,2420"/></g><path filter="url(#b3)" fill="none" stroke="#7ccbf0" stroke-width="6" opacity="0.55" d="M490,2252 C525,2268 550,2300 568,2326 C588,2350 630,2362 740,2346"/><path filter="url(#b1)" fill="none" stroke="#48abe3" stroke-width="2" opacity="0.75" d="M480,2250 C520,2270 548,2310 572,2340 C595,2362 650,2368 760,2342"/><path filter="url(#b1)" fill="none" stroke="#5fb9e9" stroke-width="1.5" opacity="0.6" d="M440,2262 C495,2285 535,2340 575,2368 C620,2390 720,2376 790,2356"/><path filter="url(#b6)" fill="none" stroke="#ffffff" stroke-width="16" opacity="0.75" d="M760.0,2322.0 C766.7,2318.8 785.8,2308.7 800.0,2303.0 C814.2,2297.3 830.8,2290.8 845.0,2288.0 C859.2,2285.2 870.8,2285.0 885.0,2286.0 C899.2,2287.0 915.0,2288.0 930.0,2294.0 C945.0,2300.0 967.5,2317.3 975.0,2322.0"/><path filter="url(#b12)" fill="#f3fafe" opacity="0.9" d="M760,2322 C820,2290 870,2282 910,2290 C960,2305 990,2335 1000,2350 C930,2335 860,2325 760,2335 Z"/><path filter="url(#b12)" fill="#62bfee" opacity="0.85" d="M930,2415 C990,2420 1040,2440 1080,2462 C1100,2472 1115,2478 1125,2480 L1125,2548 C1060,2525 990,2500 930,2465 Z"/><path filter="url(#b6)" fill="#7fcdf1" opacity="0.7" d="M1010,2380 C1050,2410 1090,2440 1125,2462 L1125,2490 C1080,2470 1040,2440 1000,2400 Z"/><path filter="url(#b1)" fill="none" stroke="#4aa9e2" stroke-width="2.4" opacity="0.8" d="M700,2345 C780,2328 830,2322 880,2328 C940,2338 990,2370 1040,2410 C1080,2440 1110,2460 1125,2468"/><path filter="url(#b1)" fill="none" stroke="#58b2e6" stroke-width="1.4" opacity="0.6" d="M880,2388 C940,2400 1000,2425 1070,2470"/><path filter="url(#b3)" fill="url(#gBulge)" opacity="0.95" d="M380,2497 C450,2460 505,2420 560,2418 C625,2420 690,2452 745,2478 L700,2505 C600,2502 480,2502 380,2497 Z"/><path filter="url(#b1)" fill="url(#gFront)" d="M0,2408 C60,2418 150,2455 220,2476 C290,2492 380,2498 450,2500 C550,2502 620,2498 700,2494 L700,2585 L0,2585 Z"/><path filter="url(#b12)" fill="#63c6f0" opacity="0.55" d="M120,2495 C250,2505 400,2512 560,2510 L560,2530 C400,2535 250,2530 120,2520 Z"/><path filter="url(#b1)" fill="none" stroke="#ffffff" stroke-width="3" opacity="0.9" d="M110,2442 C170,2462 230,2482 300,2494 C380,2503 480,2505 640,2498"/><path filter="url(#b12)" fill="#1a74c6" opacity="0.8" d="M200,2555 C380,2535 540,2520 700,2515 L700,2600 L160,2600 Z"/><path filter="url(#b6)" fill="#1570c4" opacity="0.85" d="M0,2492 C40,2515 90,2550 130,2585 L0,2585 Z"/><path filter="url(#b1)" fill="none" stroke="#ffffff" stroke-width="4" opacity="0.85" d="M0,2478 C45,2505 95,2545 140,2585"/><path filter="url(#b1)" fill="none" stroke="#ffffff" stroke-width="2.5" opacity="0.7" d="M0,2512 C30,2535 60,2560 85,2585"/><path filter="url(#b3)" fill="none" stroke="#d9f0fb" stroke-width="8" opacity="0.55" d="M0,2455 C60,2480 120,2530 190,2585"/><path filter="url(#b1)" fill="url(#gRib)" d="M470,2585 C540,2545 610,2495 680,2466 C740,2448 800,2445 860,2451 C940,2466 1020,2510 1125,2551 L1125,2585 Z"/><path filter="url(#b1)" fill="none" stroke="#ffffff" stroke-width="3" opacity="0.9" d="M625,2490 C680,2465 740,2452 800,2451 C860,2448 940,2470 1000,2500 C1060,2525 1100,2542 1125,2551"/><path filter="url(#b6)" fill="#4f9fe0" opacity="0.75" d="M470,2590 C520,2555 580,2515 640,2485 L660,2500 C610,2530 570,2560 545,2590 Z"/><path filter="url(#b6)" fill="#62b3e8" opacity="0.9" d="M850,2520 C930,2545 1030,2570 1125,2575 L1125,2590 L850,2590 Z"/><path filter="url(#b6)" fill="#3f86d4" opacity="0.85" d="M850,2505 C880,2530 920,2560 950,2590 L870,2590 C860,2560 850,2530 840,2510 Z"/><path filter="url(#b1)" fill="url(#gNavy)" d="M643,2585 C660,2545 692,2505 742,2486 C790,2472 828,2482 853,2508 C870,2530 880,2560 886,2585 Z"/><path filter="url(#b3)" fill="#07348a" opacity="0.8" d="M668,2585 C690,2548 725,2512 770,2500 C800,2530 790,2570 770,2585 Z"/><path filter="url(#b3)" fill="#0a3d98" opacity="0.6" d="M650,2585 C668,2545 690,2515 720,2500 L735,2585 Z"/><path filter="url(#b1)" fill="none" stroke="#ffffff" stroke-width="3" opacity="0.75" d="M614,2585 C636,2545 672,2505 722,2484"/><path filter="url(#b3)" fill="none" stroke="#e8f4fc" stroke-width="9" opacity="0.6" d="M590,2585 C615,2545 650,2505 700,2478"/></svg></body></html>
